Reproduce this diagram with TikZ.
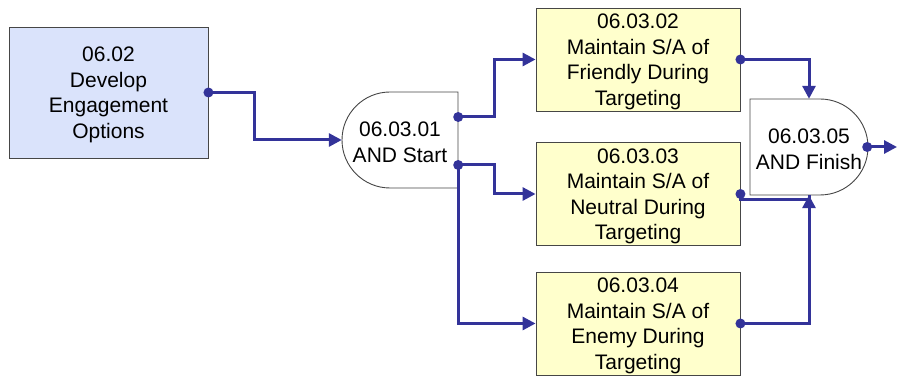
\documentclass[tikz,border=0pt]{standalone}
\usepackage{fontspec}
\setmainfont{Liberation Sans}
\usetikzlibrary{arrows.meta}
\definecolor{boxblue}{RGB}{218,227,251}
\definecolor{boxyellow}{RGB}{255,255,204}
\definecolor{linkblue}{RGB}{51,51,153}
\definecolor{edgegray}{RGB}{70,70,70}
\newcommand{\topstrut}{\rule{0pt}{19pt}}
\tikzset{
  txt/.style={font=\fontsize{21}{25.5}\selectfont, align=center, inner sep=0pt},
  funcbox/.style={txt, draw=edgegray, line width=0.9pt, minimum width=204pt, minimum height=103pt, fill=boxyellow},
  gate/.style={txt, minimum width=116pt, minimum height=96pt},
  gateline/.style={draw=edgegray, line width=0.9pt, fill=white},
  link/.style={draw=linkblue, line width=3pt, -{Triangle[length=13pt,width=13pt]}},
  plainlink/.style={draw=linkblue, line width=3pt},
  dot/.style={fill=linkblue}
}
\begin{document}
\begin{tikzpicture}
\useasboundingbox (0,0) rectangle (897pt,377pt);
% AND gate outlines
\path[gateline] (458pt,285pt) -- (390pt,285pt) arc(90:270:48pt) -- (458pt,189pt) -- cycle;
\path[gateline] (750pt,278pt) -- (820pt,278pt) arc(90:-90:48pt) -- (750pt,182pt) -- cycle;
% nodes
\node[txt, draw=edgegray, line width=0.9pt, fill=boxblue, minimum width=199pt, minimum height=131pt] (A) at (108.5pt,284.5pt) {\topstrut06.02\\Develop\\Engagement\\Options};
\node[gate] (S) at (400pt,237pt) {\topstrut06.03.01\\AND Start};
\node[funcbox] (B2) at (638pt,317.5pt) {\topstrut06.03.02\\Maintain S/A of\\Friendly During\\Targeting};
\node[funcbox] (B3) at (638pt,183pt) {\topstrut06.03.03\\Maintain S/A of\\Neutral During\\Targeting};
\node[funcbox] (B4) at (638pt,53.5pt) {\topstrut06.03.04\\Maintain S/A of\\Enemy During\\Targeting};
\node[gate] (F) at (809pt,230pt) {\topstrut06.03.05\\AND Finish};
\coordinate (S1) at ([yshift=23pt]S.east);
\coordinate (S2) at ([yshift=-25pt]S.east);
\coordinate (out) at (897pt,230pt);
% connectors
\draw[link] (A.east) -- ++(46pt,0) |- (S.west);
\draw[link] (S1) -- ++(36pt,0) |- (B2.west);
\draw[link] (S2) -- ++(36pt,0) |- (B3.west);
\draw[link] (S2) |- (B4.west);
\draw[link] (B2.east) -| (F.north);
\draw[plainlink] (B3.east) -- ++(0,-6pt) -| (F.south);
\draw[link] (B4.east) -| (F.south);
\draw[link] (F.east) -- (out);
% dots
\foreach \p in {A.east, S1, S2, B2.east, B3.east, B4.east, F.east}
  \fill[dot] (\p) circle (5pt);
\end{tikzpicture}
\end{document}
